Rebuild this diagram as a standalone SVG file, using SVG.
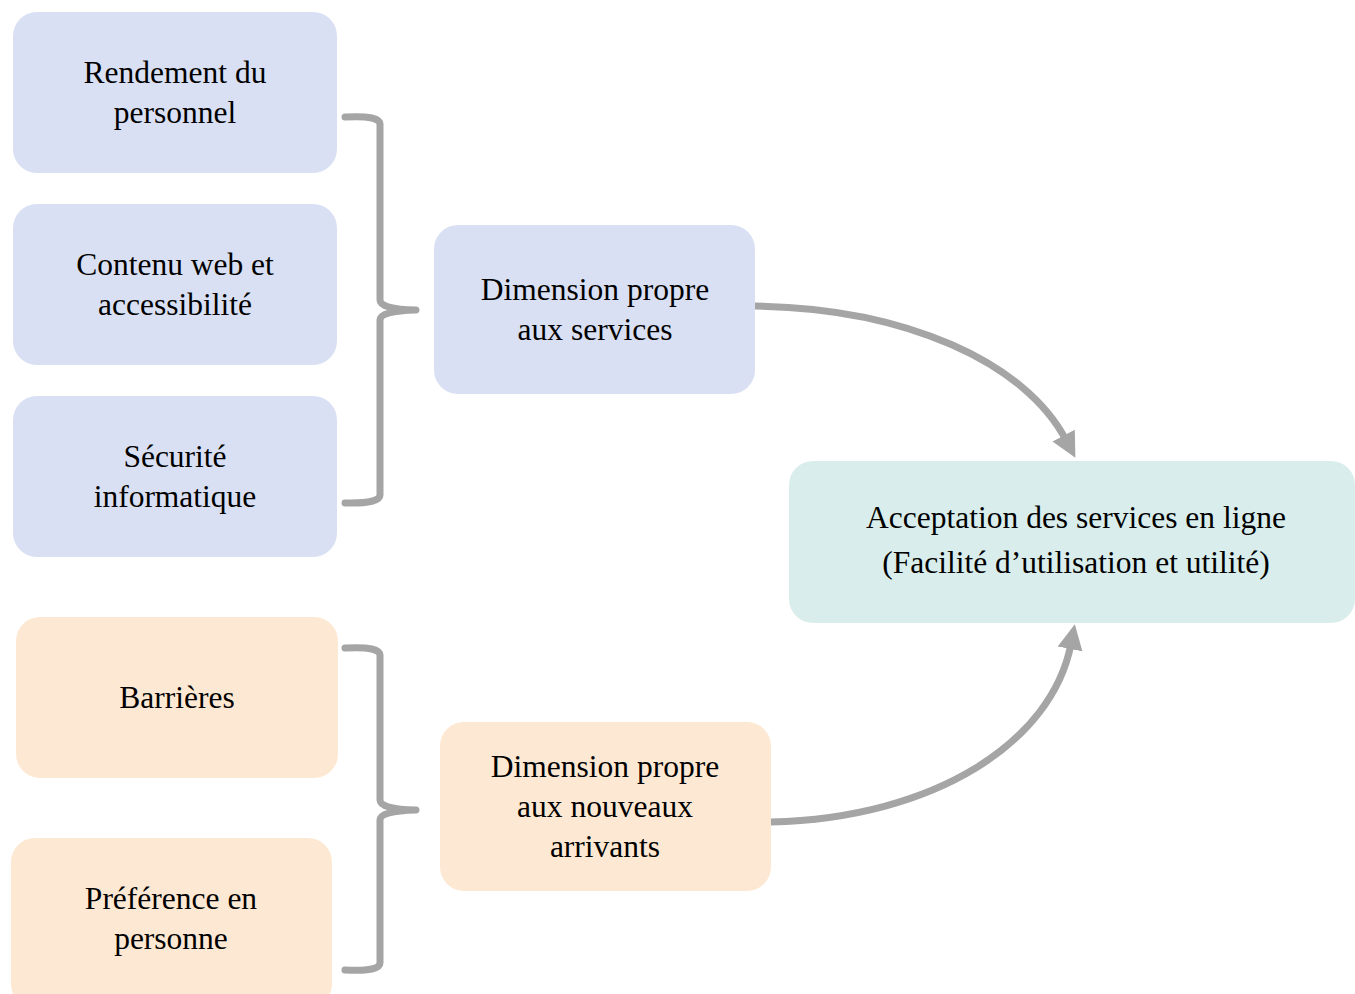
<svg xmlns="http://www.w3.org/2000/svg" width="1355" height="994" viewBox="0 0 1355 994">
<style>
.blue{fill:#DAE0F3}
.orange{fill:#FDE9D3}
.teal{fill:#D9EEEC}
text{font-family:"Liberation Serif","Times New Roman",serif;font-size:31.5px;fill:#000;text-anchor:middle}
.conn{fill:none;stroke:#A5A5A5;stroke-width:7;stroke-linecap:round;stroke-linejoin:round}
</style>
<defs>
<marker id="ah" viewBox="0 0 10 10" refX="2" refY="5" markerWidth="3.6" markerHeight="3.8" markerUnits="strokeWidth" orient="auto">
<path d="M0,0 L10,5 L0,10 Z" fill="#A5A5A5"/>
</marker>
</defs>
<rect width="1355" height="994" fill="#fff"/>
<g id="connectors">
<path class="conn" d="M345,117 Q381,115 380,125 L380,300 Q380,309 416,310 Q380,311 380,320 L380,494 Q381,504 345,503"/>
<path class="conn" d="M345,648 Q381,646 380,656 L380,800 Q380,809 416,810 Q380,811 380,820 L380,962 Q381,972 345,970"/>
<path class="conn" d="M755,306 C905,308 1025,362 1066,440" marker-end="url(#ah)"/>
<path class="conn" d="M771,822 C935,818 1052,742 1071,644" marker-end="url(#ah)"/>
</g>
<g id="n1"><rect class="blue" x="13" y="12" width="324" height="161" rx="24"/><text x="175" y="83">Rendement du</text><text x="175" y="123">personnel</text></g>
<g id="n2"><rect class="blue" x="13" y="204" width="324" height="161" rx="24"/><text x="175" y="275">Contenu web et</text><text x="175" y="315">accessibilité</text></g>
<g id="n3"><rect class="blue" x="13" y="396" width="324" height="161" rx="24"/><text x="175" y="467">Sécurité</text><text x="175" y="507">informatique</text></g>
<g id="n4"><rect class="blue" x="434" y="225" width="321" height="169" rx="24"/><text x="595" y="300">Dimension propre</text><text x="595" y="340">aux services</text></g>
<g id="n5"><rect class="teal" x="789" y="461" width="566" height="162" rx="24"/><text x="1076" y="528">Acceptation des services en ligne</text><text x="1076" y="573">(Facilité d’utilisation et utilité)</text></g>
<g id="n6"><rect class="orange" x="16" y="617" width="322" height="161" rx="24"/><text x="177" y="708">Barrières</text></g>
<g id="n7"><rect class="orange" x="11" y="838" width="321" height="170" rx="24"/><text x="171" y="909">Préférence en</text><text x="171" y="949">personne</text></g>
<g id="n8"><rect class="orange" x="440" y="722" width="331" height="169" rx="24"/><text x="605" y="777">Dimension propre</text><text x="605" y="817">aux nouveaux</text><text x="605" y="857">arrivants</text></g>
</svg>
